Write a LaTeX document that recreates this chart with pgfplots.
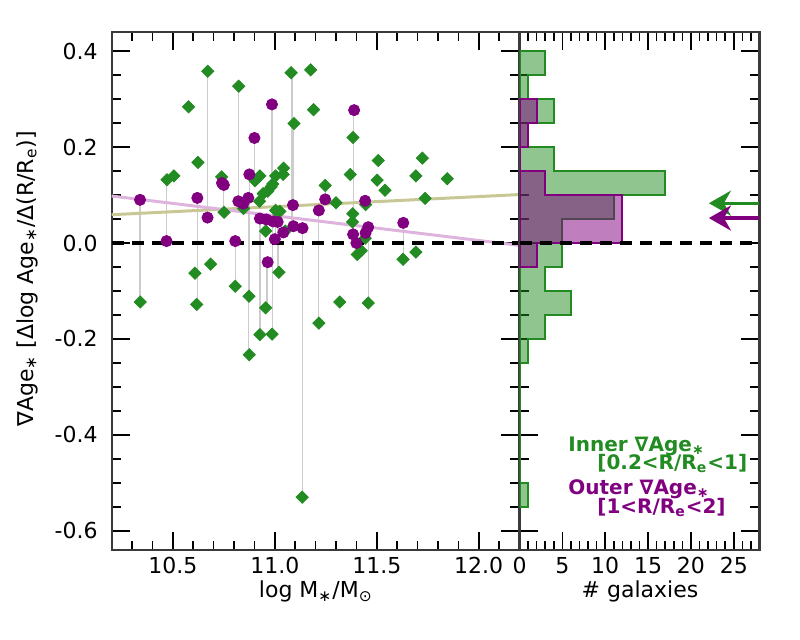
\documentclass[border=0pt]{standalone}
\usepackage{fontspec}
\setmainfont{DejaVu Sans}
\usepackage{pgfplots}
\pgfplotsset{compat=1.18}
\usetikzlibrary{arrows.meta}
\definecolor{fg}{HTML}{228B22}
\definecolor{pu}{HTML}{800080}
\definecolor{axgray}{HTML}{3A3A3A}
\definecolor{fitolive}{RGB}{200,200,150}
\definecolor{fitpink}{RGB}{222,180,222}
\begin{document}
\begin{tikzpicture}[font=\fontsize{11}{13}\selectfont]
\useasboundingbox (0,0) rectangle (400pt,320pt);
\pgfplotsset{
  panel/.style={
    scale only axis, anchor=south west,
    /pgf/number format/assume math mode=true,
    tick align=inside,
    major tick length=9pt, minor tick length=4.5pt,
    every tick/.style={black, line width=0.8pt},
    axis line style={axgray, line width=1.1pt},
    ymin=-0.64, ymax=0.44,
    ytick={-0.6,-0.4,-0.2,0,0.2,0.4},
    minor ytick={-0.6,-0.55,-0.5,-0.45,-0.4,-0.35,-0.3,-0.25,-0.2,-0.15,-0.1,-0.05,0,0.05,0.1,0.15,0.2,0.25,0.3,0.35,0.4},
    tick label style={font=\fontsize{11}{13}\selectfont},
  }
}
% ---------------- left panel ----------------
\begin{axis}[panel, at={(55.85pt,45pt)}, width=203.9pt, height=259pt,
  xmin=10.2, xmax=12.2,
  xtick={10.5,11,11.5,12},
  minor xtick={10.3,10.4,10.5,10.6,10.7,10.8,10.9,11,11.1,11.2,11.3,11.4,11.5,11.6,11.7,11.8,11.9,12,12.1},
  xticklabel style={/pgf/number format/.cd, fixed, fixed zerofill, precision=1},
  yticklabel style={xshift=-3.5pt, /pgf/number format/.cd, fixed, fixed zerofill, precision=1},
  unbounded coords=jump]
% connectors
\addplot[gray!40, line width=0.6pt] coordinates {
(10.339,0.090)(10.339,-0.123)(10.339,nan)
(10.469,0.004)(10.469,0.132)(10.469,nan)
(10.620,0.094)(10.620,-0.128)(10.620,nan)
(10.670,0.053)(10.670,0.358)(10.670,nan)
(10.750,0.121)(10.750,0.064)(10.750,nan)
(10.741,0.125)(10.741,0.138)(10.741,nan)
(10.806,0.004)(10.806,-0.090)(10.806,nan)
(10.821,0.087)(10.821,0.327)(10.821,nan)
(10.845,0.082)(10.845,0.072)(10.845,nan)
(10.871,0.094)(10.871,-0.233)(10.871,nan)
(10.875,0.143)(10.875,-0.111)(10.875,nan)
(10.901,0.219)(10.901,0.130)(10.901,nan)
(10.927,0.051)(10.927,-0.191)(10.927,nan)
(10.959,0.049)(10.959,0.025)(10.959,nan)
(10.962,-0.040)(10.962,-0.135)(10.962,nan)
(10.986,0.289)(10.986,0.119)(10.986,nan)
(10.990,0.045)(10.990,-0.190)(10.990,nan)
(11.002,0.008)(11.002,0.068)(11.002,nan)
(11.016,0.044)(11.016,-0.061)(11.016,nan)
(11.046,0.022)(11.046,0.025)(11.046,nan)
(11.091,0.079)(11.091,0.249)(11.091,nan)
(11.084,0.035)(11.084,0.355)(11.084,nan)
(11.135,0.031)(11.135,-0.530)(11.135,nan)
(11.216,0.068)(11.216,-0.167)(11.216,nan)
(11.247,0.091)(11.247,0.120)(11.247,nan)
(11.386,0.277)(11.386,0.061)(11.386,nan)
(11.383,0.018)(11.383,0.044)(11.383,nan)
(11.402,0.000)(11.402,-0.024)(11.402,nan)
(11.444,0.088)(11.444,0.080)(11.444,nan)
(11.444,0.021)(11.444,0.010)(11.444,nan)
(11.458,0.033)(11.458,-0.125)(11.458,nan)
(11.630,0.042)(11.630,-0.034)
};
% fit lines
\addplot[fitolive, line width=1.5pt] coordinates {(10.2,0.059)(12.2,0.101)};
\addplot[fitpink, line width=1.5pt] coordinates {(10.2,0.098)(12.2,-0.005)};
% inner gradients
\addplot[only marks, mark=square*, mark size=2.15pt, mark options={fill=fg, draw=fg, rotate=45}] coordinates {
(10.340,-0.123)(10.471,0.132)(10.505,0.140)(10.577,0.284)(10.608,-0.063)(10.617,-0.128)(10.623,0.168)(10.671,0.358)(10.685,-0.044)(10.739,0.138)(10.751,0.064)(10.806,-0.090)(10.823,0.327)(10.847,0.072)(10.873,-0.111)(10.875,-0.233)(10.903,0.130)(10.927,0.140)(10.925,0.087)(10.927,-0.191)(10.943,0.103)(10.955,0.025)(10.955,-0.135)(10.965,0.108)(10.982,0.117)(10.990,0.123)(10.987,-0.190)(11.004,0.140)(11.004,0.068)(11.020,-0.061)(11.025,0.066)(11.043,0.156)(11.041,0.143)(11.051,0.025)(11.080,0.355)(11.094,0.249)(11.134,-0.530)(11.176,0.361)(11.190,0.278)(11.216,-0.167)(11.247,0.120)(11.300,0.084)(11.318,-0.123)(11.370,0.143)(11.383,0.220)(11.382,0.061)(11.381,0.044)(11.404,-0.024)(11.424,-0.016)(11.443,0.010)(11.445,0.080)(11.458,-0.125)(11.502,0.131)(11.507,0.172)(11.540,0.110)(11.629,-0.034)(11.692,0.140)(11.692,-0.019)(11.724,0.177)(11.737,0.093)(11.846,0.134)
};
% outer gradients
\addplot[only marks, mark=*, mark size=2.8pt, mark options={fill=pu, draw=pu}] coordinates {
(10.339,0.090)(10.469,0.004)(10.620,0.094)(10.670,0.053)(10.741,0.125)(10.750,0.121)(10.806,0.004)(10.821,0.087)(10.845,0.082)(10.870,0.094)(10.875,0.143)(10.900,0.219)(10.927,0.051)(10.959,0.049)(10.965,-0.040)(10.986,0.289)(10.992,0.045)(11.000,0.008)(11.014,0.044)(11.042,0.022)(11.089,0.079)(11.091,0.035)(11.136,0.031)(11.216,0.068)(11.247,0.091)(11.389,0.277)(11.384,0.018)(11.400,0.000)(11.443,0.088)(11.445,0.021)(11.458,0.033)(11.630,0.042)
};
\addplot[black, line width=1.6pt, dash pattern=on 6pt off 4pt] coordinates {(10.2,0)(12.2,0)};
\end{axis}
% ---------------- right panel ----------------
\begin{axis}[panel, at={(259.75pt,45pt)}, width=120pt, height=259pt,
  xmin=0, xmax=28,
  xtick={0,5,10,15,20,25},
  minor xtick={1,2,3,4,6,7,8,9,11,12,13,14,16,17,18,19,21,22,23,24,26,27},
  yticklabels={}]
\addplot[draw=fg, line width=1pt, fill=fg, fill opacity=0.5] coordinates {
(0,-0.55)(1,-0.55)(1,-0.5)(0,-0.5)(0,-0.25)(1,-0.25)(1,-0.2)(3,-0.2)(3,-0.15)(6,-0.15)(6,-0.1)(3,-0.1)(3,-0.05)(5,-0.05)(5,0)(5,0.05)(11,0.05)(11,0.1)(17,0.1)(17,0.15)(4,0.15)(4,0.2)(1,0.2)(1,0.25)(4,0.25)(4,0.3)(1,0.3)(1,0.35)(3,0.35)(3,0.4)(0,0.4)
} -- cycle;
\addplot[draw=pu, line width=1pt, fill=pu, fill opacity=0.5] coordinates {
(0,-0.05)(2,-0.05)(2,0)(12,0)(12,0.05)(12,0.1)(3,0.1)(3,0.15)(0,0.15)(0,0.2)(1,0.2)(1,0.25)(2,0.25)(2,0.3)(0,0.3)
} -- cycle;
\addplot[black, line width=1.6pt, dash pattern=on 6pt off 4pt] coordinates {(0,0)(28,0)};
\addplot[fg, line width=1.6pt, -{Stealth[length=11pt,width=12.5pt,inset=3.5pt]}] coordinates {(28,0.083)(22.1,0.083)};
\addplot[pu, line width=1.6pt, -{Stealth[length=11pt,width=12.5pt,inset=3.5pt]}] coordinates {(28,0.052)(22.1,0.052)};
\end{axis}
% labels
\node[rotate=90] at (13.5pt,180.5pt) {∇Age\textsubscript{∗} [Δlog Age\textsubscript{∗}/Δ(R/R\textsubscript{e})]};
\node[anchor=base] at (157.9pt,21pt) {log M\textsubscript{∗}/M\textsubscript{⊙}};
\node[anchor=base] at (320pt,21pt) {\# galaxies};
\begin{scope}[every node/.style={anchor=base west, inner sep=0pt, font=\bfseries\fontsize{10}{12}\selectfont}]
\node[text=fg] at (284pt,94.2pt) {Inner ∇Age\textsubscript{∗}};
\node[text=fg] at (298.5pt,85pt) {[0.2<R/R\textsubscript{e}<1]};
\node[text=pu] at (284pt,72.5pt) {Outer ∇Age\textsubscript{∗}};
\node[text=pu] at (298.5pt,63.3pt) {[1<R/R\textsubscript{e}<2]};
\end{scope}
\end{tikzpicture}
\end{document}
